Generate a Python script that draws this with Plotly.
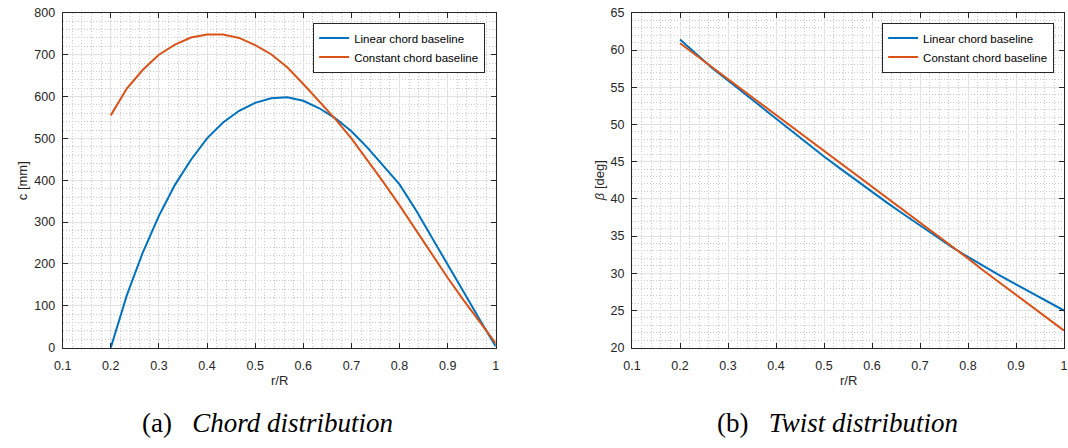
import plotly.graph_objects as go

# ---------------- data ----------------
r_over_R = [0.2000, 0.2333, 0.2667, 0.3000, 0.3333, 0.3667, 0.4000, 0.4333, 0.4667,
            0.5000, 0.5333, 0.5667, 0.6000, 0.6333, 0.6667, 0.7000, 0.7333, 0.7667,
            0.8000, 0.8333, 0.8667, 0.9000, 0.9333, 0.9667, 1.0000]

chord_linear = [0, 125, 228, 315, 389, 449, 500, 538, 566, 585, 596, 598, 590, 572,
                548, 517, 478, 433, 390, 330, 263, 198, 133, 67, 3]
chord_constant = [555, 619, 664, 700, 724, 741, 748, 748, 740, 723, 701, 670, 630, 587,
                  546, 500, 449, 395, 340, 282, 224, 167, 113, 60, 10]

twist_linear = [61.4, 59.5, 57.6, 55.9, 54.2, 52.4, 50.7, 49.0, 47.3, 45.7, 44.1, 42.5,
                40.9, 39.4, 37.9, 36.4, 34.9, 33.5, 32.2, 30.9, 29.7, 28.5, 27.3, 26.1, 25.0]
twist_constant = [60.9, 59.3, 57.7, 56.1, 54.5, 52.9, 51.3, 49.6, 48.0, 46.4, 44.8, 43.2,
                  41.6, 40.0, 38.4, 36.8, 35.2, 33.6, 32.0, 30.3, 28.7, 27.1, 25.5, 23.9, 22.3]

series_names = ["Linear chord baseline", "Constant chord baseline"]
series_colors = ["#0072BD", "#D95319"]

x_tickvals = [0.1, 0.2, 0.3, 0.4, 0.5, 0.6, 0.7, 0.8, 0.9, 1.0]
x_ticktext = ["0.1", "0.2", "0.3", "0.4", "0.5", "0.6", "0.7", "0.8", "0.9", "1"]

captions = ["(a)\u00a0\u00a0\u00a0<i>Chord distribution</i>",
            "(b)\u00a0\u00a0\u00a0<i>Twist distribution</i>"]

# ---------------- layout helpers ----------------
W, H = 1068, 448
def px_x(p):
    return p / W
def px_y(p):
    return 1 - p / H

AX = "#262626"
GRID = "#e2e2e2"
MINOR = "#cacaca"
TICKFONT = dict(family="Liberation Sans, Arial, sans-serif", size=12.5, color=AX)

fig = go.Figure()

for name, color, ys in zip(series_names, series_colors, [chord_linear, chord_constant]):
    fig.add_trace(go.Scatter(x=r_over_R, y=ys, mode="lines", name=name,
                             line=dict(color=color, width=2),
                             xaxis="x", yaxis="y", legend="legend"))
for name, color, ys in zip(series_names, series_colors, [twist_linear, twist_constant]):
    fig.add_trace(go.Scatter(x=r_over_R, y=ys, mode="lines", name=name,
                             line=dict(color=color, width=2),
                             xaxis="x2", yaxis="y2", legend="legend2"))

def xaxis_cfg(domain, anchor):
    return dict(domain=domain, anchor=anchor, range=[0.1, 1.0],
                tickvals=x_tickvals, ticktext=x_ticktext,
                ticks="inside", ticklen=5, tickcolor=AX, tickwidth=1,
                showline=True, linecolor=AX, linewidth=1, mirror="allticks",
                showgrid=True, gridcolor=GRID, gridwidth=1, zeroline=False,
                tickfont=TICKFONT, ticklabelstandoff=6, ticklabeloverflow="allow",
                minor=dict(dtick=0.02, tick0=0.1, showgrid=True, gridcolor=MINOR,
                           griddash="1px,2px", gridwidth=1, ticks=""))

def yaxis_cfg(domain, anchor, rng, dtick, minor_dtick):
    return dict(domain=domain, anchor=anchor, range=rng, dtick=dtick, tick0=rng[0],
                ticks="inside", ticklen=5, tickcolor=AX, tickwidth=1,
                showline=True, linecolor=AX, linewidth=1, mirror="allticks",
                showgrid=True, gridcolor=GRID, gridwidth=1, zeroline=False,
                tickfont=TICKFONT, ticklabelstandoff=4, ticklabeloverflow="allow",
                minor=dict(dtick=minor_dtick, tick0=rng[0], showgrid=True, gridcolor=MINOR,
                           griddash="1px,2px", gridwidth=1, ticks=""))

ydom = [px_y(351.7), px_y(6)]
fig.update_layout(
    width=W, height=H, margin=dict(l=0, r=0, t=0, b=0),
    paper_bgcolor="white", plot_bgcolor="white",
    xaxis=xaxis_cfg([px_x(54.3), px_x(492.8)], "y"),
    yaxis=yaxis_cfg(ydom, "x", [0, 800], 100, 20),
    xaxis2=xaxis_cfg([px_x(630.7), 1.0], "y2"),
    yaxis2=yaxis_cfg(ydom, "x2", [20, 65], 5, 1),
    legend=dict(x=px_x(482), xanchor="right", y=px_y(16), yanchor="top",
                bgcolor="white", bordercolor=AX, borderwidth=1,
                font=dict(family="Liberation Sans, Arial, sans-serif", size=11.5, color="black"),
                tracegroupgap=0),
    legend2=dict(x=px_x(1058), xanchor="right", y=px_y(16), yanchor="top",
                 bgcolor="white", bordercolor=AX, borderwidth=1,
                 font=dict(family="Liberation Sans, Arial, sans-serif", size=11.5, color="black"),
                 tracegroupgap=0),
    showlegend=True,
)

ann_font = dict(family="Liberation Sans, Arial, sans-serif", size=13, color=AX)
cap_font = dict(family="Liberation Serif, Times New Roman, serif", size=27, color="black")
annotations = [
    dict(text="r/R", x=px_x(273.5), y=px_y(386), xref="paper", yref="paper",
         showarrow=False, font=ann_font, xanchor="center", yanchor="middle"),
    dict(text="r/R", x=px_x(849.5), y=px_y(386), xref="paper", yref="paper",
         showarrow=False, font=ann_font, xanchor="center", yanchor="middle"),
    dict(text="c [mm]", x=px_x(14), y=px_y(179), xref="paper", yref="paper",
         showarrow=False, font=ann_font, textangle=-90, xanchor="center", yanchor="middle"),
    dict(text="<i>β</i> [deg]", x=px_x(598), y=px_y(179), xref="paper", yref="paper",
         showarrow=False, font=ann_font, textangle=-90, xanchor="center", yanchor="middle"),
    dict(text=captions[0], x=px_x(262), y=px_y(429), xref="paper", yref="paper",
         showarrow=False, font=cap_font, xanchor="center", yanchor="middle"),
    dict(text=captions[1], x=px_x(839), y=px_y(429), xref="paper", yref="paper",
         showarrow=False, font=cap_font, xanchor="center", yanchor="middle"),
]
fig.update_layout(annotations=annotations)

fig.write_html("out.html")
